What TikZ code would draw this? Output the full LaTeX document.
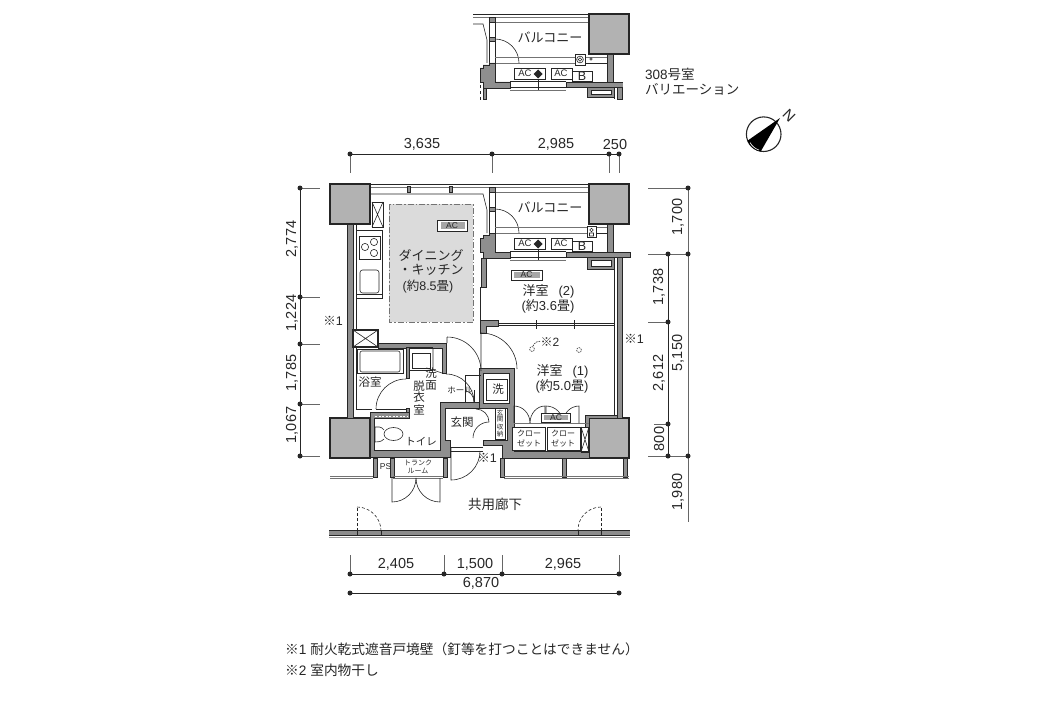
\documentclass[tikz,border=0pt]{standalone}
\usepackage{fontspec}
\setmainfont{Liberation Sans}
\newfontfamily\jpf{Noto Sans CJK JP}
\usetikzlibrary{calc}
\definecolor{ink}{gray}{0.15}
\definecolor{wallfill}{gray}{0.56}
\definecolor{colfill}{gray}{0.70}
\definecolor{floorfill}{gray}{0.86}
\newcommand{\fs}[1]{\fontsize{#1}{#1}\selectfont}
\newcommand{\jp}[1]{{\jpf #1}}
\tikzset{
  lbl/.style={inner sep=0pt,text=ink,font=\fs{#1}},
  lbl/.default=13,
  wall/.style={fill=wallfill,draw=ink,line width=0.9pt},
  col/.style={fill=colfill,draw=ink,line width=1.1pt},
  thinl/.style={draw=ink,line width=0.6pt},
  softl/.style={draw=black!55,line width=0.7pt},
  dimline/.style={draw=ink,line width=0.7pt},
  tickl/.style={draw=black!60,line width=0.9pt},
  box/.style={fill=white,draw=ink,line width=0.8pt},
}
% balcony strip, shared by the plan and the 308 variation (#1: left end of the lines)
\newcommand{\balconystrip}[1]{
  \draw[ink,line width=0.9pt] (#1,184) -- (589,184);
  \draw[softl,line width=0.6pt] (#1,187.5) -- (589,187.5);
  \draw[softl,line width=0.6pt] (495,192) -- (589,192);
  \draw[thinl] (#1,194) -- (483,194) -- (487,210) -- (487,233);
  \draw[wall] (489,187) rectangle (495,192);
  \draw[thinl] (489,192) -- (489,233) (495,192) -- (495,233);
  \draw[wall] (489,207) rectangle (495,211);
  \draw[thinl] (495,209) arc[start angle=90,end angle=0,radius=24pt];
  \draw[softl,line width=0.6pt] (495,227.5) -- (607,227.5) (495,233) -- (587,233);
  \draw[col] (589,184) rectangle (629,224);
  \draw[wall] (607,224) rectangle (613,252);
  \draw[wall] (489,233) -- (495,233) -- (495,252) -- (510,252) -- (510,258) -- (483,258)
    -- (483,252) -- (480,252) -- (480,238) -- (483,238) -- (483,235) -- (489,235) -- cycle;
  \draw[wall] (566,252) rectangle (630,257);
  \draw[thinl] (510,251) -- (566,251) (510,257.5) -- (566,257.5);
  \draw[softl] (510,260) -- (566,260);
  \draw[thinl] (538,244) -- (538,260);
  \draw[box] (514,238) rectangle (545,249);
  \draw[box] (551,238) rectangle (572,249);
  \draw[box] (572,241) rectangle (592,251);
  \node[lbl=9.5] (ac1) at (525,243.5) {AC};
  \node[lbl=9.5] (ac2) at (561,243.5) {AC};
  \node[lbl=12.5] (bbox) at (582,246.5) {B};
  \fill[ink] (538,239.5) -- (542.5,244) -- (538,248.5) -- (533.5,244) -- cycle;
  \node[lbl] (balc) at (550,207) {\jp{バルコニー}};
}
\begin{document}
\begin{tikzpicture}[x=1pt,y=-1pt]
\useasboundingbox (0,0) rectangle (1056,706);

% 308 variation
\begin{scope}[yshift=170pt]
\balconystrip{473}
\draw[wall] (587,257) -- (587,267) -- (614,267) -- (614,257) -- cycle;
\draw[box] (591,260) rectangle (611,264.5);
\draw[thinl] (614,257) -- (614,269);
\draw[wall] (617,257) rectangle (622,269);
\fill[white] (623,251) rectangle (632,258);
\draw[wall] (483,258) rectangle (486,269);
\draw[box] (575,224) rectangle (585,235);
\draw[thinl] (580,229.5) circle (3.4pt) (580,229.5) circle (1.8pt) (591,229) circle (1.2pt);
\draw[thinl] (585,233) -- (607,233);
\draw[thinl,dashed] (480,255) -- (480,270);
\end{scope}
\node[lbl=13.5,anchor=west] (var1) at (645,74) {308\jp{号室}};
\node[lbl=13.5,anchor=west] (var2) at (645,89) {\jp{バリエーション}};

% compass
\coordinate (cc) at (763.7,134.2);
\draw[ink,line width=1.1pt] (cc) circle (17.3pt);
\fill[black] (780,118) -- (747.5,140.7) arc[start angle=201,end angle=260,radius=17.3pt] -- cycle;
\draw[white,line width=0.6pt] (750,142.5) arc[start angle=208,end angle=252,radius=15.6pt];
\node[lbl=15,rotate=-45] (north) at (789,116) {N};

% balcony, columns
\balconystrip{370}
\foreach \mx in {409,451}
  \draw[wall,line width=0.5pt] (\mx-1.5,186) rectangle (\mx+1.5,192);
\draw[col] (330,184) rectangle (370,224);
\draw[col] (330,418) rectangle (370,458);
\draw[col] (589,418) rectangle (629,458);

% outer walls
\draw[wall] (347,224) rectangle (353,418);
\draw[thinl] (356,224) -- (356,347);
\draw[wall] (617,257) rectangle (622,418);
\draw[ink,line width=0.9pt] (614.5,257) -- (614.5,415);
\draw[wall] (587,257) -- (587,269) -- (614,269) -- (614,257) -- cycle;
\draw[box] (591,260) rectangle (611,266);
\draw[wall] (585,415) -- (617,415) -- (617,418) -- (589,418) -- (589,427) -- (585,427) -- cycle;
\draw[box] (587,226) rectangle (596,237);
\draw[thinl] (589.5,233) rectangle (593.5,236) (591.5,230) circle (1.8pt);
\draw[thinl] (596,233) -- (607,233);

% dining kitchen
\draw[fill=floorfill,draw=black!55,line width=0.8pt,dash pattern=on 6pt off 2pt on 1.5pt off 2pt]
  (389,204) rectangle (473,322);
\draw[box,line width=0.9pt] (437,220) rectangle (467,231);
\fill[black!35] (441,222) rectangle (465,229);
\node[lbl=8.5] (acdk) at (452,225.5) {AC};
\node[lbl] (dk1) at (431,255) {\jp{ダイニング}};
\node[lbl] (dk2) at (431,270) {\jp{・キッチン}};
\node[lbl=12.5] (dk3) at (428,286.5) {(\jp{約}8.5\jp{畳})};
\draw[box,line width=1pt] (372,202) rectangle (383,227);
\draw[thinl] (372,202) -- (383,227) (383,202) -- (372,227);
\draw[thinl] (356,230) -- (382,230) -- (382,298) -- (356,298) (356,294) -- (382,294);
\draw[box] (359,236) rectangle (380,259);
\foreach \cx/\cy in {374/242, 365/247, 374/253}
  \draw[thinl] (\cx,\cy) circle (3.6pt);
\draw[thinl,rounded corners=2.5pt] (360,270) rectangle (379,293);

% walls round the bath and wash room
\draw[box,line width=1.1pt] (353,330) rectangle (378,347);
\draw[thinl] (353,330) -- (378,347) (378,330) -- (353,347);
\draw[wall] (378,343) -- (446,343) -- (446,373) -- (442,373) -- (442,348) -- (378,348) -- cycle;
\draw[thinl] (356,347) -- (356,409) -- (372,409);
\draw[thinl] (433,348) -- (433,370) -- (442,373);
\draw[wall] (406,347) rectangle (409,378);
\draw[wall] (406,408) rectangle (409,413);
\draw[thinl] (357,349) rectangle (403,373);
\draw[thinl,rounded corners=2pt] (360,351) rectangle (400,372);
\draw[thinl] (409,347) -- (433,347) (409,370) -- (433,370);
\draw[thinl] (412,353) rectangle (430,368);
\draw[thinl] (406,379) arc[start angle=90,end angle=180,radius=30pt];
\draw[thinl] (376,409) -- (406,409);
\node[lbl=11.5] (bath) at (370,382.5) {\jp{浴室}};
\node[lbl=11.5] (wash1) at (431,373.5) {\jp{洗}};
\node[lbl=11.5] (wash2) at (419,386) {\jp{脱}};
\node[lbl=11.5] (wash3) at (431,386) {\jp{面}};
\node[lbl=11.5] (wash4) at (419,397.5) {\jp{衣}};
\node[lbl=11.5] (wash5) at (419,410) {\jp{室}};

% toilet and entrance walls
\draw[wall] (370,412) -- (409,412) -- (409,418) -- (374,418) -- (374,450) -- (440,450)
  -- (440,402) -- (481,402) -- (481,408) -- (445,408) -- (445,440) -- (450,440) -- (450,457)
  -- (370,457) -- cycle;
\draw[white,line width=1pt,dash pattern=on 2pt off 1.5pt] (375,416) -- (408,416);
\draw[thinl] (384,430) .. controls (381,426) and (378,427) .. (375,427) -- (375,442)
  .. controls (378,442) and (381,442) .. (384,439);
\draw[thinl] (393.5,434) ellipse (9.5pt and 6.5pt);
\node[lbl=10.5] (wc) at (421,442) {\jp{トイレ}};
\node[lbl=11.5] (genkan) at (462,422) {\jp{玄関}};
\node[lbl=8.5] (hall) at (460,390.5) {\jp{ホール}};

% washer block
\draw[wall,even odd rule] (479,368) -- (514,368) -- (514,451) -- (589,451) -- (589,458)
  -- (502,458) -- (502,445) -- (483,445) -- (483,440) -- (507,440) -- (507,408) -- (479,408) -- cycle
  (483,373) rectangle (509,403);
\draw[thinl] (486,379) rectangle (507,400);
\node[lbl=11.5] (washer) at (498,389.5) {\jp{洗}};
\draw[thinl] (465,375) -- (481,375) (465,375) -- (465,402) (474,390) -- (474,402);
\draw[thinl] (465,391) arc[start angle=90,end angle=0,x radius=9pt,y radius=11pt];
\draw[thinl] (495,408) rectangle (505,439);
\node[lbl=6.5] (gs1) at (500,413) {\jp{玄}};
\node[lbl=6.5] (gs2) at (500,419.5) {\jp{関}};
\node[lbl=6.5] (gs3) at (500,427.5) {\jp{収}};
\node[lbl=6.5] (gs4) at (500,434.5) {\jp{納}};
\draw[thinl] (476,409) arc[start angle=90,end angle=0,radius=13pt];
\draw[thinl] (489,422) arc[start angle=90,end angle=180,radius=16pt];

% rooms
\draw[wall] (481,258) rectangle (486,287);
\draw[thinl] (480,287) -- (480,320);
\draw[wall] (480,320) -- (498,320) -- (498,326) -- (486,326) -- (486,333) -- (480,333) -- cycle;
\draw[thinl] (498,323) -- (614,323) (498,325) -- (614,325);
\foreach \tx in {536,574}
  \draw[thinl] (\tx,320) -- (\tx,329);
\draw[box,line width=0.9pt] (511,270) rectangle (542,280);
\fill[black!35] (514,272) rectangle (540,278);
\node[lbl=8.5] (acr2) at (526.5,275) {AC};
\node[lbl] (r2a) at (548.5,291) {\jp{洋室}\hspace{10pt}(2)};
\node[lbl=13] (r2b) at (548,306) {(\jp{約}3.6\jp{畳})};
\node[lbl] (r1a) at (562.5,371) {\jp{洋室}\hspace{10pt}(1)};
\node[lbl=13] (r1b) at (562,386) {(\jp{約}5.0\jp{畳})};
\node[lbl=12] (note2) at (550,342) {\jp{※}2};
\draw[thinl,dash pattern=on 1.5pt off 1pt] (532,349) circle (2.4pt) (579,350) circle (2.4pt);
\draw[thinl,dash pattern=on 1.5pt off 1pt] (533,346) .. controls (535,342) and (538,341) .. (541,341);
\draw[thinl] (481,333) -- (481,368) (481,333) arc[start angle=90,end angle=0,radius=36pt];
\draw[thinl] (447,337) -- (447,343) (447,337) arc[start angle=90,end angle=0,radius=34pt];
\draw[thinl] (446,374) arc[start angle=90,end angle=0,radius=28pt];

% closets
\draw[softl,line width=0.6pt] (514,423) -- (589,423);
\draw[box] (512,427) rectangle (545,450);
\draw[box] (547,427) rectangle (580,450);
\draw[thinl] (581,427) rectangle (589,452);
\draw[thinl] (581,427) -- (589,452) (589,427) -- (581,452);
\node[lbl=8] (cl1a) at (529,433) {\jp{クロー}};
\node[lbl=8] (cl1b) at (529,443) {\jp{ゼット}};
\node[lbl=8] (cl2a) at (563,433) {\jp{クロー}};
\node[lbl=8] (cl2b) at (563,443) {\jp{ゼット}};
\draw[thinl] (514,423) -- (514,406) arc[start angle=90,end angle=0,x radius=16pt,y radius=17pt];
\draw[thinl] (545,423) -- (545,406) arc[start angle=90,end angle=180,x radius=15pt,y radius=17pt];
\draw[thinl] (546,423) -- (546,406) arc[start angle=90,end angle=0,x radius=17pt,y radius=17pt];
\draw[thinl] (579,423) -- (579,406) arc[start angle=90,end angle=180,x radius=16pt,y radius=17pt];
\draw[box,line width=0.9pt] (541,413) rectangle (570,422);
\fill[black!35] (544,415) rectangle (568,420);
\node[lbl=8.5] (acr1) at (556,417.5) {AC};

% below the plan
\foreach \sx in {373,390,443,500,562,623}
  \draw[wall,line width=0.6pt] (\sx,458) rectangle (\sx+4,477);
\draw[softl] (330,476) -- (373,476) (330,478.5) -- (373,478.5);
\draw[softl] (393,476) -- (443,476) (393,478.5) -- (443,478.5);
\draw[softl] (504,476) -- (629,476) (504,478.5) -- (629,478.5);
\node[lbl=8.5] (ps) at (385.5,467) {PS};
\node[lbl=7] (tr1) at (418,463) {\jp{トランク}};
\node[lbl=7] (tr2) at (418,471) {\jp{ルーム}};
\draw[thinl] (392,478) -- (392,502) arc[start angle=-90,end angle=0,radius=24pt];
\draw[thinl] (440,478) -- (440,502) arc[start angle=-90,end angle=-180,radius=24pt];
\draw[thinl] (451,447) -- (483,447) (451,451) -- (483,451);
\draw[thinl] (451,447) -- (451,480) arc[start angle=-90,end angle=0,radius=29pt];
\node[lbl=12.5] (note1c) at (487,457.5) {\jp{※}1};
\node[lbl=12.5] (note1l) at (333,321) {\jp{※}1};
\node[lbl=12.5] (note1r) at (634,338.5) {\jp{※}1};
\node[lbl=13.5] (corr) at (495,504) {\jp{共用廊下}};

% corridor wall and its doors
\fill[black!45] (329,531) rectangle (630,535);
\draw[ink,line width=1pt] (329,530.5) -- (630,530.5) (329,535) -- (630,535);
\draw[black!40,line width=0.9pt] (329,537.5) -- (630,537.5);
\foreach \dx in {357,601}
  \draw[thinl,densely dashed] (\dx,531) -- (\dx,507);
\draw[thinl,densely dashed] (357,507) arc[start angle=90,end angle=0,radius=24pt];
\draw[thinl,densely dashed] (601,507) arc[start angle=90,end angle=180,radius=23pt];
\foreach \jx in {357,381,578,601}
  \draw[ink,line width=0.8pt] (\jx,530) -- (\jx,536);

% dimensions top
\coordinate (t1) at (350,154);
\coordinate (t2) at (492,154);
\coordinate (t3) at (609,154);
\coordinate (t4) at (619,154);
\draw[dimline] (t1) -- (t4);
\foreach \p in {t1,t2,t3,t4} {
  \draw[tickl] (\p) -- ($(\p)+(0,19)$);
  \fill[ink] (\p) circle (2.5pt);
}
\node[lbl=14.5] (d3635) at (422,144.5) {3,635};
\node[lbl=14.5] (d2985) at (556,144.5) {2,985};
\node[lbl=14.5] (d250) at (615,144.5) {250};

% dimensions left
\coordinate (l1) at (300,188);
\coordinate (l2) at (300,297);
\coordinate (l3) at (300,344);
\coordinate (l4) at (300,404);
\coordinate (l5) at (300,456);
\draw[dimline] (l1) -- (l5);
\foreach \p in {l1,l2,l3,l4,l5} {
  \draw[tickl] (\p) -- ($(\p)+(20,0)$);
  \fill[ink] (\p) circle (2.5pt);
}
\node[lbl=14.5,rotate=90] (d2774) at (292,239) {2,774};
\node[lbl=14.5,rotate=90] (d1224) at (292,313) {1,224};
\node[lbl=14.5,rotate=90] (d1785) at (292,373) {1,785};
\node[lbl=14.5,rotate=90] (d1067) at (292,425) {1,067};

% dimensions right
\coordinate (r1) at (688,188);
\coordinate (r2) at (688,254);
\coordinate (r3) at (688,456);
\coordinate (r4) at (688,522);
\coordinate (q1) at (668,254);
\coordinate (q2) at (668,322);
\coordinate (q3) at (668,424);
\coordinate (q4) at (668,456);
\coordinate (e1) at (648,188);
\coordinate (e2) at (648,254);
\coordinate (e3) at (648,456);
\coordinate (e4) at (648,322);
\coordinate (e5) at (654,424);
\draw[tickl] (r1) -- (r4);
\draw[dimline] (q1) -- (q4);
\draw[tickl] (e1) -- (r1);
\draw[tickl] (e2) -- (r2);
\draw[tickl] (e3) -- (r3);
\draw[tickl] (e4) -- (q2);
\draw[tickl] (e5) -- (q3);
\foreach \p in {r1,r2,r3,q1,q2,q3,q4}
  \fill[ink] (\p) circle (2.5pt);
\node[lbl=14.5,rotate=90] (d1700) at (678,217) {1,700};
\node[lbl=14.5,rotate=90] (d1738) at (659,287) {1,738};
\node[lbl=14.5,rotate=90] (d2612) at (659,373) {2,612};
\node[lbl=14.5,rotate=90] (d5150) at (678,353) {5,150};
\node[lbl=14.5,rotate=90] (d800) at (659,439) {800};
\node[lbl=14.5,rotate=90] (d1980) at (678,492) {1,980};

% dimensions bottom
\coordinate (b1) at (350,574);
\coordinate (b2) at (444,574);
\coordinate (b3) at (502,574);
\coordinate (b4) at (619,574);
\coordinate (c1) at (350,593);
\coordinate (c2) at (619,593);
\draw[dimline] (b1) -- (b4);
\draw[dimline] (c1) -- (c2);
\foreach \p in {b1,b2,b3,b4} {
  \draw[tickl] (\p) -- ($(\p)+(0,-19)$);
  \fill[ink] (\p) circle (2.5pt);
}
\fill[ink] (c1) circle (2.5pt) (c2) circle (2.5pt);
\node[lbl=14.5] (d2405) at (396,564.5) {2,405};
\node[lbl=14.5] (d1500) at (475,564.5) {1,500};
\node[lbl=14.5] (d2965) at (563,564.5) {2,965};
\node[lbl=14.5] (d6870) at (481,583.5) {6,870};

% notes
\node[lbl=13.7,anchor=west] (fn1) at (285,649.5) {\jp{※}1 \jp{耐火乾式遮音戸境壁（釘等を打つことはできません）}};
\node[lbl=13.7,anchor=west] (fn2) at (285,670) {\jp{※}2 \jp{室内物干し}};
\end{tikzpicture}
\end{document}
